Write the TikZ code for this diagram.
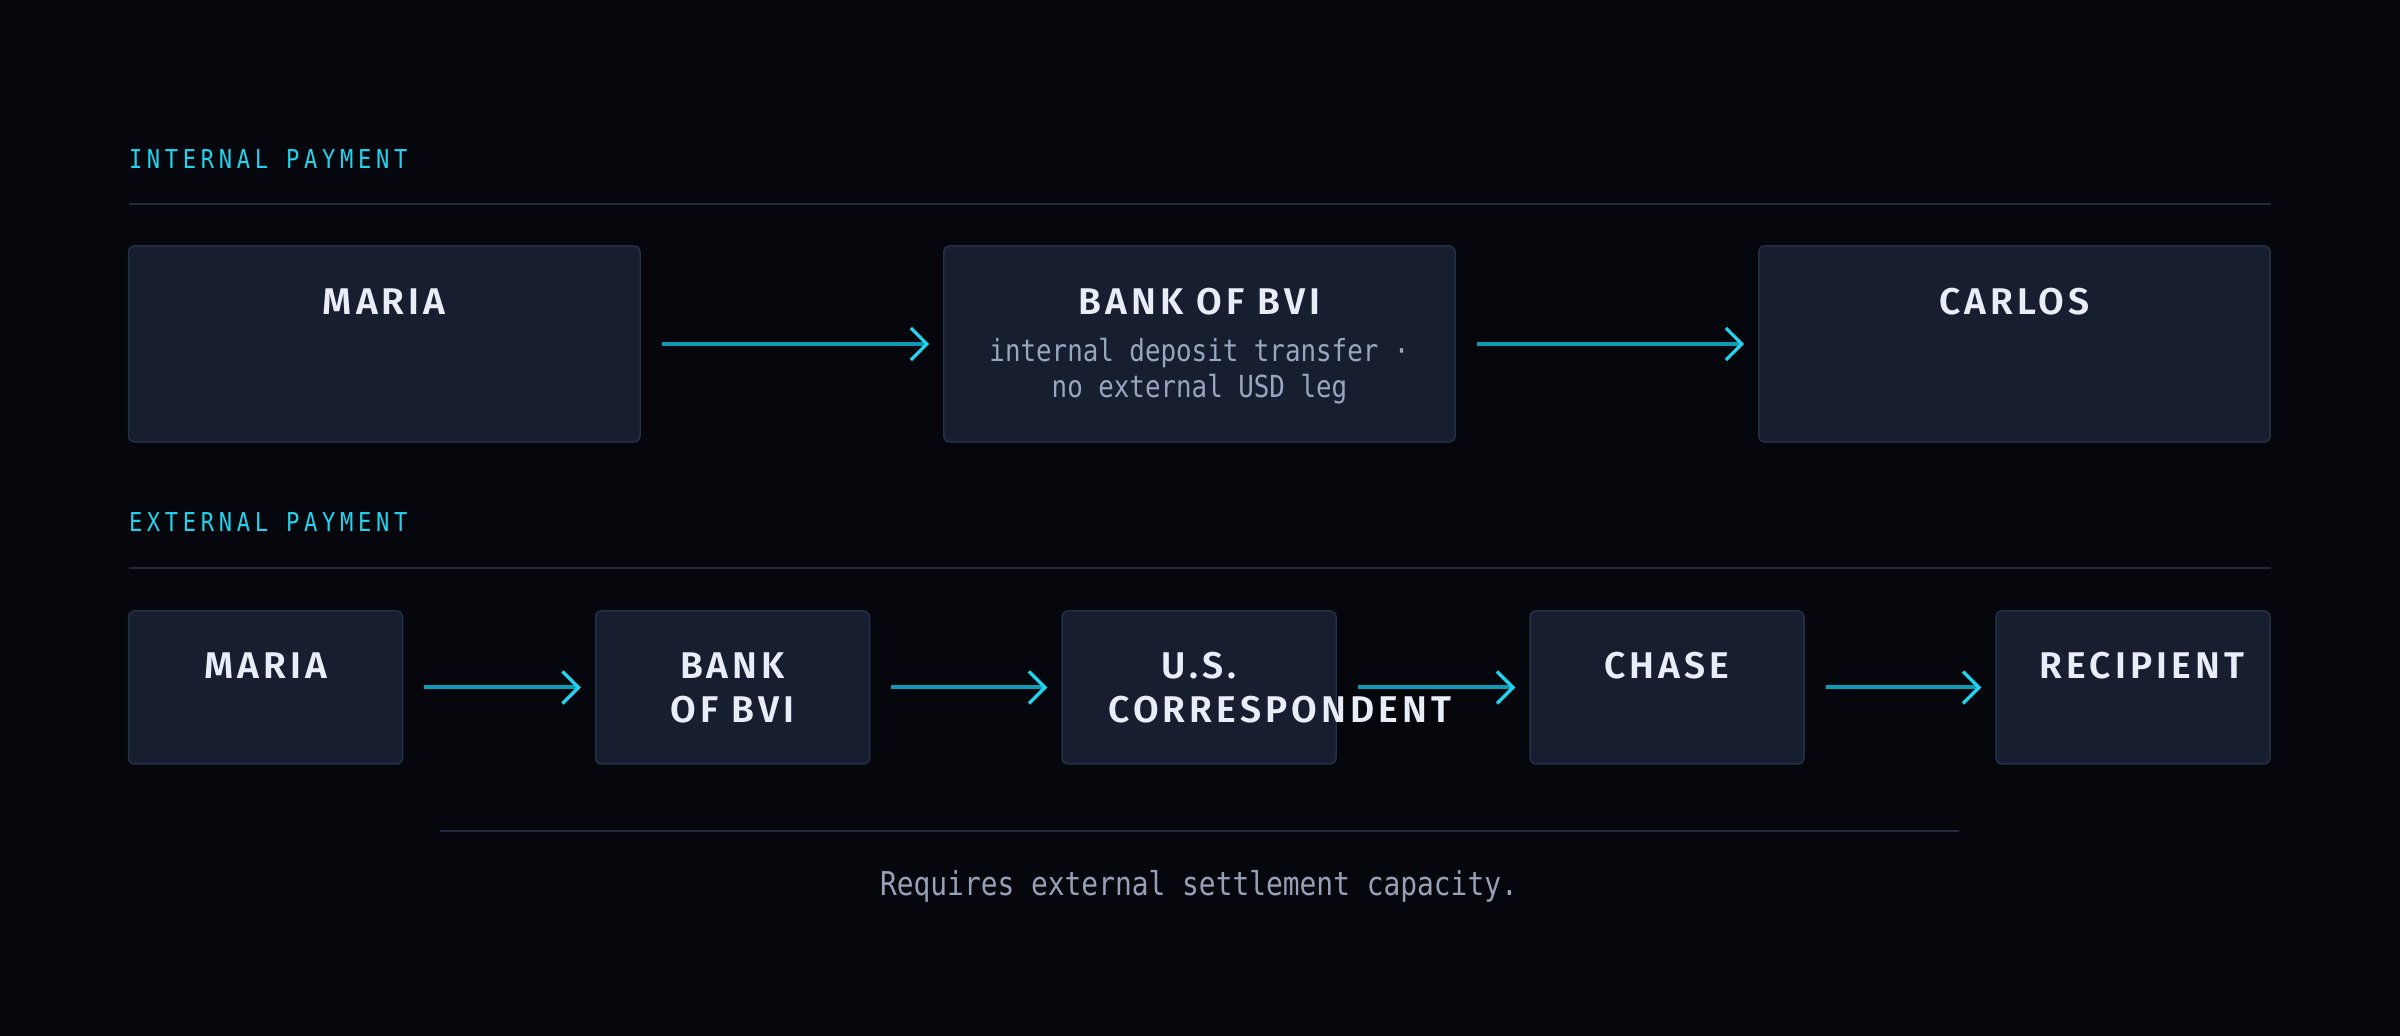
\documentclass[tikz,border=0pt]{standalone}
\usepackage{fontspec}
\usepackage{tikz}
\usetikzlibrary{arrows.meta}
\setmainfont{Fira Sans}
\newfontfamily\titlefont{Fira Sans}[BoldFont={Fira Sans SemiBold},LetterSpace=11]
\newfontfamily\codefont{DejaVu Sans Mono}[FakeStretch=0.85]
\newfontfamily\labelfont{DejaVu Sans Mono}[FakeStretch=0.85,LetterSpace=18]
\definecolor{bgcol}{HTML}{05070C}
\definecolor{cardfill}{HTML}{161E2F}
\definecolor{carddraw}{HTML}{253047}
\definecolor{rulecol}{HTML}{222A3B}
\definecolor{cyanlabel}{HTML}{22D3EE}
\definecolor{flowline}{HTML}{0E9BB5}
\definecolor{titlecol}{HTML}{E9EDF7}
\definecolor{subcol}{HTML}{9AA5BF}
\definecolor{captcol}{HTML}{97A0B6}

\tikzset{
  card/.style={draw=carddraw, fill=cardfill, line width=0.75pt, rounded corners=3pt, inner sep=0pt},
  bigcard/.style={card, minimum width=255.7pt, minimum height=98pt},
  smallcard/.style={card, minimum width=137pt, minimum height=76.5pt},
  cardtitle/.style={anchor=base, inner sep=0pt, text=titlecol, font=\titlefont\bfseries\fontsize{18.6}{22}\selectfont},
  cardsub/.style={anchor=base, inner sep=0pt, text=subcol, font=\codefont\fontsize{15.2}{18}\selectfont},
  seclabel/.style={anchor=base west, inner sep=0pt, text=cyanlabel, font=\labelfont\fontsize{13}{16}\selectfont},
  secrule/.style={draw=rulecol, line width=1pt},
  flow/.style={draw=flowline, line width=2pt, shorten <=10.5pt, shorten >=7pt,
    -{Straight Barb[length=8pt,width=16pt,line width=1.6pt,color=cyanlabel]}},
}

\begin{document}
\begin{tikzpicture}[x=0.5pt,y=0.5pt,yscale=-1,xscale=1]
\fill[bgcol] (0,0) rectangle (2400,1036);
\useasboundingbox (0,0) rectangle (2400,1036);

% Text Node
\node[seclabel] (intlabel) at (128.6,168.4) {INTERNAL PAYMENT};
%Straight Lines
\draw[secrule] (128.6,203.6) -- (2271,203.6);

%Shape: Rectangle
\node[bigcard] (maria1) at (384.3,344) {};
\node[bigcard] (bank1) at (1199.5,344) {};
\node[bigcard] (carlos1) at (2014.5,344) {};
% Text Node
\node[cardtitle] (maria1t) at (384.3,314.5) {MARIA};
\node[cardtitle] (bank1t) at (1199.5,314.5) {BANK OF BVI};
\node[cardsub] (bank1s) at (1199.5,361.5) {internal deposit transfer ·};
\node[cardsub] (bank1u) at (1199.5,397.5) {no external USD leg};
\node[cardtitle] (carlos1t) at (2014.5,314.5) {CARLOS};
%Straight Lines
\draw[flow] (maria1) -- (bank1);
\draw[flow] (bank1) -- (carlos1);

% Text Node
\node[seclabel] (extlabel) at (128.6,532) {EXTERNAL PAYMENT};
%Straight Lines
\draw[secrule] (128.6,568.5) -- (2271,568.5);

%Shape: Rectangle
\node[smallcard] (maria2) at (265.5,687.5) {};
\node[smallcard] (bank2) at (732.5,687.5) {};
\node[smallcard] (corr2) at (1199,687.5) {};
\node[smallcard] (chase2) at (1667,687.5) {};
\node[smallcard] (recip2) at (2133,687.5) {};
% Text Node
\node[cardtitle] (maria2t) at (265.5,679) {MARIA};
\node[cardtitle] (bank2t) at (732.5,679) {BANK};
\node[cardtitle] (bank2u) at (732.5,723) {OF BVI};
\node[cardtitle] (corr2t) at (1199,679) {U.S.};
\node[cardtitle, anchor=base west] (corr2u) at (1108,723) {CORRESPONDENT};
\node[cardtitle] (chase2t) at (1667,679) {CHASE};
\node[cardtitle] (recip2t) at (2142,679) {RECIPIENT};
%Straight Lines
\draw[flow] (maria2) -- (bank2);
\draw[flow] (bank2) -- (corr2);
\draw[flow] (corr2) -- (chase2);
\draw[flow] (chase2) -- (recip2);

%Straight Lines
\draw[secrule] (440,830.7) -- (1959,830.7);
% Text Node
\node[anchor=base, inner sep=0pt, text=captcol, font=\codefont\fontsize{16.4}{20}\selectfont] (caption) at (1199,896) {Requires external settlement capacity.};

\end{tikzpicture}
\end{document}
